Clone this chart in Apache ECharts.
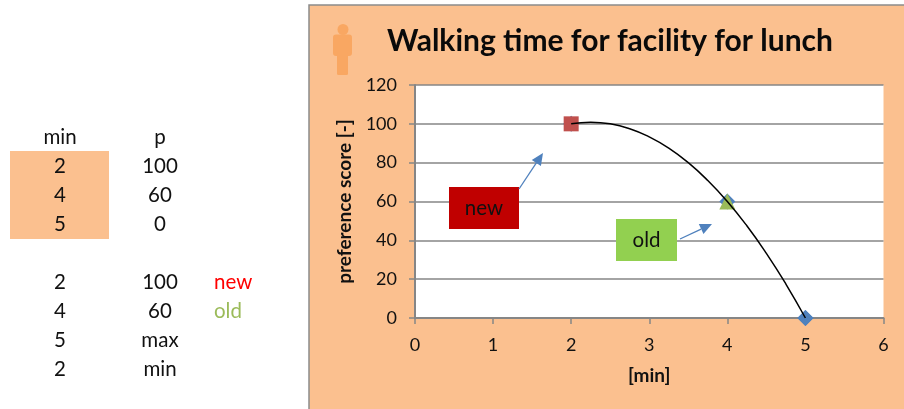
<!DOCTYPE html>
<html>
<head>
<meta charset="utf-8">
<style>html,body{margin:0;padding:0;background:#fff}#chart{width:904px;height:409px}</style>
<script src="https://cdn.jsdelivr.net/npm/echarts@6/dist/echarts.min.js"></script>
</head>
<body>
<div id="chart"></div>
<script>
// Preference points
const minutes = [2, 4, 5];
const scores = [100, 60, 0];
const newPoint = [[2, 100]];
const oldPoint = [[4, 60]];
const maxPoint = [[5, 0]];

// Fitted preference curve
const curveMinutes = [2, 2.25, 2.5, 2.75, 3, 3.25, 3.5, 3.75, 4, 4.25, 4.5, 4.75, 5];
const curveScores = [100, 100.8, 100, 97.5, 93.3, 87.5, 80, 70.8, 60, 47.5, 33.3, 17.5, 0];

// Side table
const tableHeader = ['min', 'p'];
const inputRows = [['2', '100'], ['4', '60'], ['5', '0']];
const summaryRows = [['2', '100', 'new'], ['4', '60', 'old'], ['5', 'max', ''], ['2', 'min', '']];

const FONT = 'Lato, "Open Sans", sans-serif';
const PANEL = '#FBC08F';
const INK = '#111111';
const GREY = '#868686';
const labelColors = { new: '#FF0000', old: '#9BBB59' };

const cell = (x, y, text, fill, align) => ({
  type: 'text', z: 7, x, y,
  style: { text, fill: fill || INK, font: '20.5px ' + FONT, align: align || 'center', verticalAlign: 'middle' }
});

const tableCells = [];
tableHeader.forEach((t, c) => tableCells.push(cell([60, 160][c], 137, t)));
inputRows.forEach((r, i) => r.forEach((t, c) => tableCells.push(cell([60, 160][c], 166 + i * 29, t))));
summaryRows.forEach((r, i) => {
  const y = 282 + i * 29;
  tableCells.push(cell(60, y, r[0]));
  tableCells.push(cell(160, y, r[1]));
  if (r[2]) tableCells.push(cell(214, y, r[2], labelColors[r[2]], 'left'));
});

// Callout arrow: shaft plus filled head
const arrow = (x1, y1, x2, y2) => {
  const a = Math.atan2(y2 - y1, x2 - x1), len = 12, w = 5.5;
  const bx = x2 - Math.cos(a) * len, by = y2 - Math.sin(a) * len;
  const nx = -Math.sin(a) * w, ny = Math.cos(a) * w;
  return [
    { type: 'line', z: 6, shape: { x1, y1, x2: bx, y2: by }, style: { stroke: '#4F81BD', lineWidth: 1.3 } },
    { type: 'polygon', z: 6, shape: { points: [[x2, y2], [bx + nx, by + ny], [bx - nx, by - ny]] }, style: { fill: '#4F81BD' } }
  ];
};

const callout = (x, y, width, height, fill, text) => [
  { type: 'rect', z: 6, shape: { x, y, width, height }, style: { fill } },
  cell(x + width / 2, y + height / 2, text, '#111')
];

const chart = echarts.init(document.getElementById('chart'), null, { renderer: 'canvas' });
chart.setOption({
  animation: false,
  backgroundColor: '#fff',
  title: {
    text: 'Walking time for facility for lunch',
    left: 605, top: 21, textAlign: 'center',
    textStyle: { fontFamily: FONT, fontSize: 30, fontWeight: 'bold', color: '#0a0a0a' }
  },
  grid: { left: 415, right: 20.5, top: 85, bottom: 91, show: true, backgroundColor: '#fff', borderWidth: 0, containLabel: false },
  xAxis: {
    type: 'value', min: 0, max: 6, interval: 1,
    name: '[min]', nameLocation: 'middle', nameGap: 48,
    nameTextStyle: { fontFamily: FONT, fontSize: 19, fontWeight: 'bold', color: INK },
    axisLine: { show: true, onZero: false, lineStyle: { color: GREY, width: 2 } },
    axisTick: { show: true, length: 6, lineStyle: { color: GREY, width: 1.5 } },
    axisLabel: { fontFamily: FONT, fontSize: 18, color: INK, margin: 18 },
    splitLine: { show: false }
  },
  yAxis: {
    type: 'value', min: 0, max: 120, interval: 20,
    name: 'preference score [-]', nameLocation: 'middle', nameGap: 60,
    nameTextStyle: { fontFamily: FONT, fontSize: 19, fontWeight: 'bold', color: INK },
    axisLine: { show: true, onZero: false, lineStyle: { color: GREY, width: 2 } },
    axisTick: { show: true, length: 6, lineStyle: { color: GREY, width: 1.5 } },
    axisLabel: { fontFamily: FONT, fontSize: 18, color: INK, margin: 18 },
    splitLine: { show: true, lineStyle: { color: GREY, width: 1.5 } }
  },
  series: [
    { type: 'scatter', name: 'all', z: 3, symbol: 'diamond', symbolSize: 16,
      itemStyle: { color: '#4F81BD', opacity: 1 },
      data: minutes.map((m, i) => [m, scores[i]]) },
    { type: 'scatter', name: 'max', z: 3, symbol: 'diamond', symbolSize: 16,
      itemStyle: { color: '#4F81BD', opacity: 1 }, data: maxPoint },
    { type: 'scatter', name: 'new', z: 4, symbol: 'rect', symbolSize: 15,
      itemStyle: { color: '#C0504D', opacity: 1 }, data: newPoint },
    { type: 'scatter', name: 'old', z: 4, symbol: 'triangle', symbolSize: 16,
      itemStyle: { color: '#9BBB59', opacity: 1 }, data: oldPoint },
    { type: 'line', name: 'curve', z: 5, smooth: true, symbol: 'none', clip: false,
      lineStyle: { color: '#000', width: 1.5 },
      data: curveMinutes.map((m, i) => [m, curveScores[i]]) }
  ],
  graphic: { elements: [
    // Orange panel behind the chart
    { type: 'rect', z: -10, silent: true, shape: { x: 309, y: 5, width: 600, height: 410 },
      style: { fill: PANEL, stroke: '#8C8C8C', lineWidth: 1.5 } },
    // Highlighted cells of the side table
    { type: 'rect', z: -10, shape: { x: 10, y: 151, width: 99, height: 88 }, style: { fill: PANEL } },
    // Walking figure
    { type: 'circle', z: 2, shape: { cx: 343, cy: 29.5, r: 5.5 }, style: { fill: '#F9A762' } },
    { type: 'rect', z: 2, shape: { x: 333, y: 34.5, width: 19, height: 21.5, r: 3 }, style: { fill: '#F9A762' } },
    { type: 'rect', z: 2, shape: { x: 337, y: 52, width: 11, height: 23, r: 1.5 }, style: { fill: '#F9A762' } },
    ...tableCells,
    ...callout(449, 187, 70, 42, '#C00000', 'new'),
    ...callout(616, 219, 61, 42, '#92D050', 'old'),
    ...arrow(519, 189, 543, 153),
    ...arrow(680, 239, 712, 224)
  ] }
});
</script>
</body>
</html>
